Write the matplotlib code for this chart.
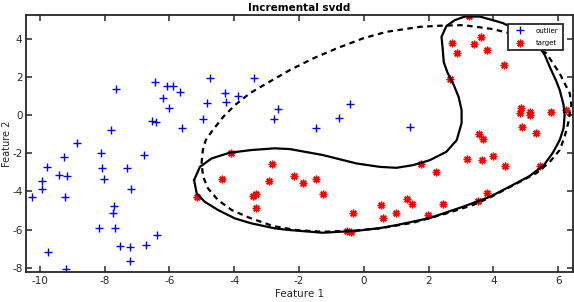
import numpy as np
import matplotlib.pyplot as plt

plt.rcParams['axes.unicode_minus'] = False

# outlier points (blue +)
outlier_x = [-8.84, -7.65, -7.81, -6.45, -6.09, -5.89, -5.68, -6.19, -6.03, -6.55,
             -6.42, -5.60, -4.75, -3.39, -4.30, -3.88, -4.84, -4.24, -4.96, -2.66,
             -2.76, -1.49, -0.77, -0.44, 1.42, -8.11, -6.79, -9.26, -9.79, -8.07,
             -7.31, -9.40, -9.17, -8.02, -9.94, -9.94, -7.19, -10.24, -9.23, -7.72,
             -7.74, -8.17, -7.68, -6.38, -9.76, -7.53, -7.22, -6.71, -7.21, -9.21]
outlier_y = [-1.48, 1.34, -0.79, 1.71, 1.54, 1.54, 1.19, 0.89, 0.37, -0.33,
             -0.37, -0.68, 1.95, 1.95, 1.14, 0.99, 0.64, 0.66, -0.21, 0.31,
             -0.21, -0.66, -0.16, 0.56, -0.61, -2.01, -2.11, -2.22, -2.74, -2.77,
             -2.79, -3.14, -3.19, -3.32, -3.47, -3.86, -3.86, -4.31, -4.28, -4.76,
             -5.15, -5.90, -5.90, -6.27, -7.19, -6.86, -6.91, -6.82, -7.66, -8.08]

# target points (red *)
target_x = [3.25, 2.72, 2.88, 3.40, 3.61, 3.79, 4.32, 2.65, 4.84, 4.81,
            5.14, 5.12, 5.79, 6.23, 4.88, 5.33, 3.57, 3.69, 1.78, 2.24,
            3.19, 3.64, 3.99, 4.36, 5.45, 0.52, 0.60, 1.01, 1.34, 1.48,
            1.99, 2.46, 3.53, 3.79, -4.11, -2.83, -4.37, -2.92, -2.16, -1.89,
            -1.47, -1.26, -3.42, -3.33, -3.32, -5.16, -0.33, -0.53, -0.40]
target_y = [5.18, 3.75, 3.23, 3.73, 4.10, 3.42, 2.60, 1.87, 0.37, 0.09,
            0.17, 0.00, 0.17, 0.26, -0.61, -0.92, -0.98, -1.27, -2.57, -2.97,
            -2.32, -2.36, -2.13, -2.64, -2.67, -4.71, -5.39, -5.10, -4.38, -4.68,
            -5.24, -4.66, -4.50, -4.10, -2.01, -2.57, -3.37, -3.47, -3.18, -3.54,
            -3.34, -4.12, -4.21, -4.12, -4.85, -4.28, -5.10, -6.06, -6.14]

# incremental svdd boundary (solid)
solid_x = [-5.24, -5.16, -4.91, -4.50, -3.98, -3.47, -2.75, -2.28, -1.27, -0.23,
           0.49, 1.01, 2.04, 3.06, 3.89, 4.60, 5.12, 5.56, 5.83, 6.05,
           6.17, 6.20, 6.17, 6.05, 5.93, 5.74, 5.59, 5.33, 4.81, 4.29,
           3.98, 3.58, 3.12, 2.81, 2.55, 2.40, 2.44, 2.47, 2.59, 2.78,
           2.93, 3.02, 3.02, 2.87, 2.55, 2.04, 1.52, 1.01, 0.49, -0.23,
           -1.27, -2.28, -2.75, -3.47, -4.14, -4.70, -5.06, -5.24]
solid_y = [-3.40, -4.10, -4.54, -4.97, -5.41, -5.67, -5.93, -6.02, -6.16, -6.06,
           -5.92, -5.76, -5.39, -4.80, -4.28, -3.66, -3.19, -2.62, -1.99, -1.31,
           -0.68, 0.00, 0.52, 1.31, 1.83, 2.53, 3.14, 3.77, 4.40, 4.82,
           4.97, 5.16, 5.16, 4.97, 4.66, 4.10, 3.40, 2.77, 2.20, 1.57,
           0.94, 0.26, -0.42, -1.31, -1.92, -2.36, -2.62, -2.76, -2.71, -2.53,
           -2.09, -1.78, -1.74, -1.83, -1.97, -2.27, -2.71, -3.40]

# batch svdd boundary (dashed)
dashed_x = [-5.01, -4.97, -4.88, -4.70, -4.34, -3.98, -3.52, -3.00, -2.28, -1.56,
            -0.84, -0.02, 0.70, 1.73, 2.35, 3.06, 3.48, 3.99, 4.51, 5.12,
            5.64, 6.05, 6.36, 6.41, 6.31, 6.20, 6.05, 5.74, 5.33, 4.60,
            3.89, 3.37, 2.55, 1.51, 0.49, -0.23, -1.26, -2.08, -2.80, -3.57,
            -4.08, -4.50, -4.81, -4.96, -5.01]
dashed_y = [-2.53, -1.83, -1.31, -0.87, -0.09, 0.52, 1.14, 1.66, 2.36, 2.97,
            3.49, 4.02, 4.36, 4.62, 4.68, 4.71, 4.62, 4.50, 4.28, 3.82,
            3.23, 2.18, 1.14, 0.52, -0.43, -1.14, -1.83, -2.46, -3.04, -3.69,
            -4.32, -4.71, -5.15, -5.64, -5.93, -6.04, -6.11, -6.02, -5.81, -5.35,
            -4.97, -4.45, -3.84, -3.23, -2.53]

x_ticks = [-10, -8, -6, -4, -2, 0, 2, 4, 6]
y_ticks = [-8, -6, -4, -2, 0, 2, 4]

axis_color = '#262626'

fig = plt.figure(figsize=(5.74, 3.02), dpi=100)
ax = fig.add_axes([0.0453, 0.1003, 0.9524, 0.85])

# matlab style markers: plus and asterisk
ax.plot(outlier_x, outlier_y, '+', color='blue', markersize=5.5, markeredgewidth=1.0, label='outlier')
ax.plot(target_x, target_y, marker=(8, 2, 0), linestyle='none', color='red',
        markersize=5.5, markeredgewidth=1.0, label='target')
ax.plot(solid_x, solid_y, '-', color='black', linewidth=1.6)
ax.plot(dashed_x, dashed_y, '--', color='black', linewidth=1.6, dashes=(2.5, 2))

ax.set_xlim(-10.43, 6.45)
ax.set_ylim(-8.2, 5.24)
ax.set_xticks(x_ticks)
ax.set_yticks(y_ticks)
ax.tick_params(direction='in', top=True, right=True, length=4.5, width=1.1,
               colors=axis_color, labelsize=7.5, pad=3)
ax.tick_params(axis='y', pad=2.5)
for s in ax.spines.values():
    s.set_color(axis_color)
    s.set_linewidth(1.3)

ax.set_xlabel('Feature 1', fontsize=7.5, color=axis_color, labelpad=2)
ax.set_ylabel('Feature 2', fontsize=7, color=axis_color, labelpad=0)
ax.yaxis.set_label_coords(-0.0265, 0.5)
ax.set_title('Incremental svdd', fontsize=7.5, fontweight='bold', pad=3)

leg = ax.legend(loc='upper right', bbox_to_anchor=(0.988, 0.98), fontsize=5,
                fancybox=False, framealpha=1, edgecolor=axis_color,
                handlelength=2.2, borderpad=0.6, labelspacing=0.9, handletextpad=1.2)
leg.get_frame().set_linewidth(1.3)

fig.savefig('out.png', dpi=100)
